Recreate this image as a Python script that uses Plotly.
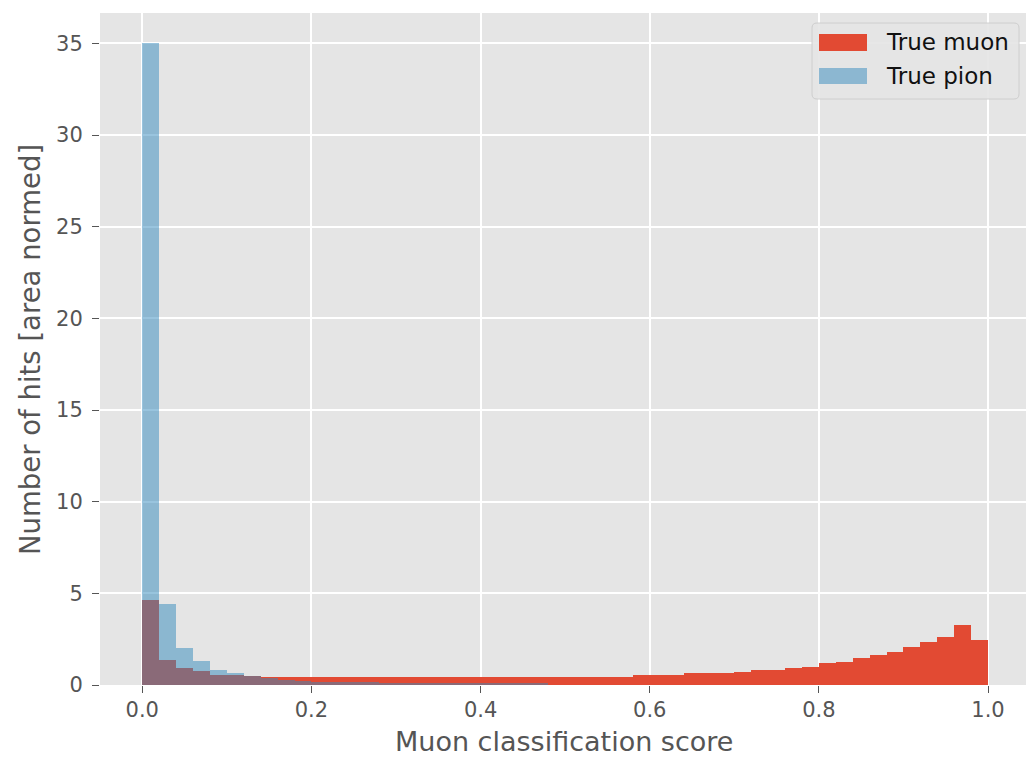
import numpy as np
import plotly.graph_objects as go

# Histogram bins: 50 equal bins across the score range [0, 1]
bin_edges = np.linspace(0.0, 1.0, 51)
bin_centers = (bin_edges[:-1] + bin_edges[1:]) / 2
bin_width = bin_edges[1] - bin_edges[0]

# Area-normalised hit counts per bin
muon_counts = [4.62, 1.38, 0.92, 0.74, 0.56, 0.55, 0.50, 0.45, 0.42, 0.42,
               0.42, 0.42, 0.43, 0.43, 0.44, 0.44, 0.45, 0.45, 0.45, 0.46,
               0.46, 0.46, 0.46, 0.46, 0.46, 0.46, 0.46, 0.46, 0.46, 0.55,
               0.56, 0.57, 0.64, 0.65, 0.66, 0.73, 0.82, 0.82, 0.91, 1.00,
               1.18, 1.28, 1.46, 1.64, 1.82, 2.10, 2.37, 2.64, 3.28, 2.46]
pion_counts = [35.05, 4.42, 2.04, 1.30, 0.82, 0.65, 0.48, 0.36, 0.25, 0.24,
               0.19, 0.18, 0.17, 0.16, 0.11, 0.10, 0.10, 0.09, 0.09, 0.09,
               0.08, 0.08, 0.08, 0.08, 0.0, 0.0, 0.0, 0.0, 0.0, 0.0,
               0.0, 0.0, 0.0, 0.0, 0.0, 0.0, 0.0, 0.0, 0.0, 0.0,
               0.0, 0.0, 0.0, 0.0, 0.0, 0.0, 0.0, 0.0, 0.0, 0.0]

x_ticks = [0.0, 0.2, 0.4, 0.6, 0.8, 1.0]
x_tick_labels = ["0.0", "0.2", "0.4", "0.6", "0.8", "1.0"]
y_ticks = [0, 5, 10, 15, 20, 25, 30, 35]

series_names = ["True muon", "True pion"]
MUON_RED = "#E24A33"
PION_BLUE = "#348ABD"
PANEL_BG = "#E5E5E5"
LABEL_GREY = "#555555"

# Figure geometry (pixels)
W, H = 1026, 758
ML, MR, MT, MB = 100, 0, 13, 73


def px_x(px):
    return (px - ML) / (W - ML - MR)


def px_y(py):
    return (H - MB - py) / (H - MT - MB)


fig = go.Figure()
fig.add_trace(go.Bar(
    x=bin_centers, y=muon_counts, width=bin_width, name=series_names[0],
    marker=dict(color=MUON_RED, line=dict(width=0)), showlegend=False,
))
fig.add_trace(go.Bar(
    x=bin_centers, y=pion_counts, width=bin_width, name=series_names[1],
    marker=dict(color=PION_BLUE, line=dict(width=0)), opacity=0.5,
    showlegend=False,
))

axis_common = dict(
    showgrid=True, gridcolor="white", gridwidth=1.6, zeroline=False,
    showline=False, ticks="outside", tickcolor=LABEL_GREY, tickwidth=1,
    ticklen=7,
    tickfont=dict(family="DejaVu Sans", size=21, color=LABEL_GREY),
)

fig.update_layout(
    width=W, height=H,
    margin=dict(l=ML, r=MR, t=MT, b=MB),
    paper_bgcolor="white", plot_bgcolor=PANEL_BG,
    barmode="overlay", bargap=0,
    xaxis=dict(
        range=[-0.05, 1.0449], tickvals=x_ticks, ticktext=x_tick_labels,
        ticklabelstandoff=-1, **axis_common,
    ),
    yaxis=dict(
        range=[0, 36.66], tickvals=y_ticks, ticklabelstandoff=5,
        **axis_common,
    ),
)

# Axis titles
fig.add_annotation(
    text="Muon classification score", xref="paper", yref="paper",
    x=px_x(564), y=px_y(741), showarrow=False, xanchor="center",
    yanchor="middle",
    font=dict(family="DejaVu Sans", size=27, color=LABEL_GREY),
)
fig.add_annotation(
    text="Number of hits [area normed]", xref="paper", yref="paper",
    x=px_x(30), y=px_y(350), showarrow=False, textangle=-90,
    xanchor="center", yanchor="middle",
    font=dict(family="DejaVu Sans", size=27.5, color=LABEL_GREY),
)

# Legend box with rounded corners
bx0, bx1, by0, by1, r = 812, 1019, 23, 99, 5
path = (
    f"M {px_x(bx0 + r)},{px_y(by0)} L {px_x(bx1 - r)},{px_y(by0)} "
    f"Q {px_x(bx1)},{px_y(by0)} {px_x(bx1)},{px_y(by0 + r)} "
    f"L {px_x(bx1)},{px_y(by1 - r)} "
    f"Q {px_x(bx1)},{px_y(by1)} {px_x(bx1 - r)},{px_y(by1)} "
    f"L {px_x(bx0 + r)},{px_y(by1)} "
    f"Q {px_x(bx0)},{px_y(by1)} {px_x(bx0)},{px_y(by1 - r)} "
    f"L {px_x(bx0)},{px_y(by0 + r)} "
    f"Q {px_x(bx0)},{px_y(by0)} {px_x(bx0 + r)},{px_y(by0)} Z"
)
fig.add_shape(type="path", path=path, xref="paper", yref="paper",
              fillcolor=PANEL_BG, opacity=0.9,
              line=dict(color="#CCCCCC", width=1), layer="above")

legend_rows = [(series_names[0], MUON_RED, 1.0, 34, 51, 42),
               (series_names[1], PION_BLUE, 0.5, 68, 84, 76)]
for label, color, alpha, y0, y1, yc in legend_rows:
    fig.add_shape(type="rect", xref="paper", yref="paper",
                  x0=px_x(819), x1=px_x(867), y0=px_y(y0), y1=px_y(y1),
                  fillcolor=color, opacity=alpha, line=dict(width=0),
                  layer="above")
    fig.add_annotation(
        text=label, xref="paper", yref="paper", x=px_x(884), y=px_y(yc),
        xanchor="left", yanchor="middle", showarrow=False,
        font=dict(family="DejaVu Sans", size=23, color="#111111"),
    )

fig.write_html("out.html")
